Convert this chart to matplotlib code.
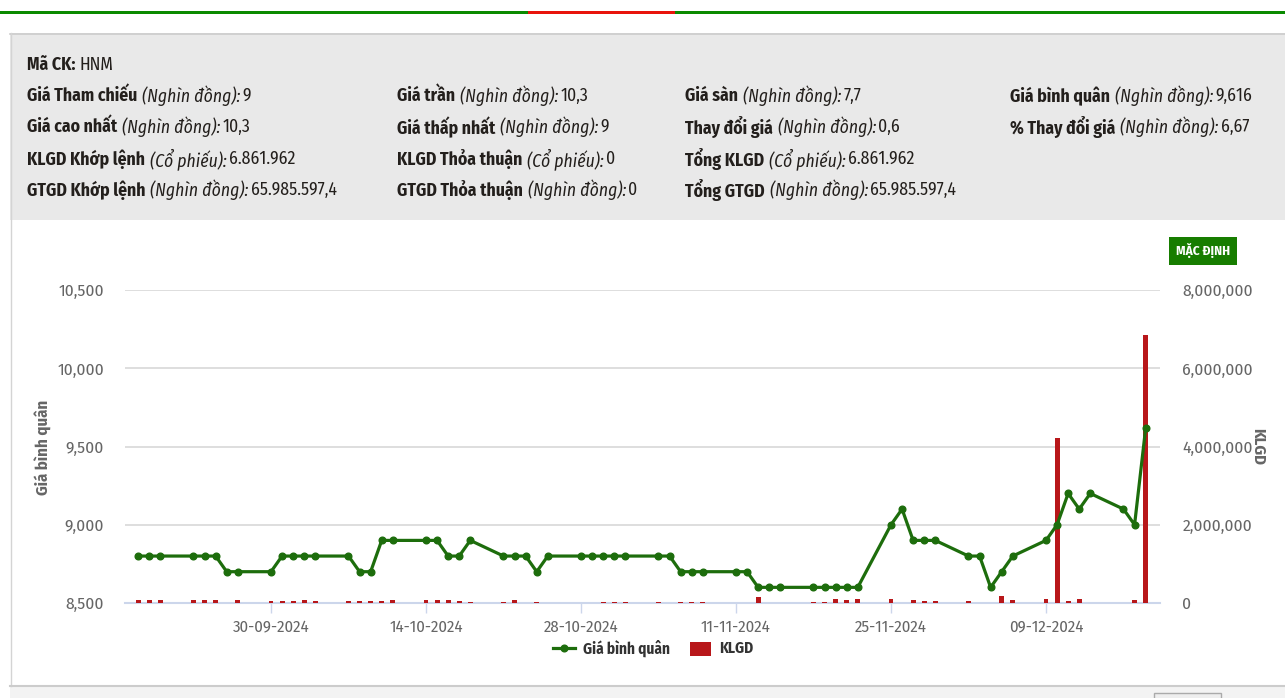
import numpy as np
import pandas as pd
import matplotlib
matplotlib.use('Agg')
import matplotlib.pyplot as plt
import matplotlib.dates as mdates
from matplotlib import font_manager
from matplotlib.patches import Rectangle
from matplotlib.ticker import FuncFormatter, FixedLocator

# ---- data ----
dates = ['18-09-2024', '19-09-2024', '20-09-2024', '23-09-2024', '24-09-2024', '25-09-2024',
         '26-09-2024', '27-09-2024', '30-09-2024', '01-10-2024', '02-10-2024', '03-10-2024',
         '04-10-2024', '07-10-2024', '08-10-2024', '09-10-2024', '10-10-2024', '11-10-2024',
         '14-10-2024', '15-10-2024', '16-10-2024', '17-10-2024', '18-10-2024', '21-10-2024',
         '22-10-2024', '23-10-2024', '24-10-2024', '25-10-2024', '28-10-2024', '29-10-2024',
         '30-10-2024', '31-10-2024', '01-11-2024', '04-11-2024', '05-11-2024', '06-11-2024',
         '07-11-2024', '08-11-2024', '11-11-2024', '12-11-2024', '13-11-2024', '14-11-2024',
         '15-11-2024', '18-11-2024', '19-11-2024', '20-11-2024', '21-11-2024', '22-11-2024',
         '25-11-2024', '26-11-2024', '27-11-2024', '28-11-2024', '29-11-2024', '02-12-2024',
         '03-12-2024', '04-12-2024', '05-12-2024', '06-12-2024', '09-12-2024', '10-12-2024',
         '11-12-2024', '12-12-2024', '13-12-2024', '16-12-2024', '17-12-2024', '18-12-2024']

gia_binh_quan = [8800, 8800, 8800, 8800, 8800, 8800,
                 8700, 8700, 8700, 8800, 8800, 8800,
                 8800, 8800, 8700, 8700, 8900, 8900,
                 8900, 8900, 8800, 8800, 8900, 8800,
                 8800, 8800, 8700, 8800, 8800, 8800,
                 8800, 8800, 8800, 8800, 8800, 8700,
                 8700, 8700, 8700, 8700, 8600, 8600,
                 8600, 8600, 8600, 8600, 8600, 8600,
                 9000, 9100, 8900, 8900, 8900, 8800,
                 8800, 8600, 8700, 8800, 8900, 9000,
                 9200, 9100, 9200, 9100, 9000, 9616]

klgd = [75000, 75000, 75000, 75000, 75000, 75000,
        0, 75000, 40000, 40000, 40000, 85000,
        40000, 40000, 40000, 40000, 40000, 85000,
        75000, 75000, 75000, 40000, 35000, 30000,
        75000, 10000, 35000, 10000, 5000, 10000,
        35000, 35000, 35000, 35000, 0, 35000,
        35000, 35000, 0, 0, 145000, 10000,
        10000, 30000, 30000, 100000, 75000, 110000,
        110000, 10000, 75000, 40000, 40000, 40000,
        10000, 0, 170000, 75000, 110000, 4210000,
        40000, 110000, 10000, 10000, 75000, 6861962]

tick_dates = ['30-09-2024', '14-10-2024', '28-10-2024', '11-11-2024', '25-11-2024', '09-12-2024']
left_ticks = [8500, 9000, 9500, 10000, 10500]
right_ticks = [0, 2000000, 4000000, 6000000, 8000000]

header_rows = [
    [("Giá Tham chiếu", "(Nghìn đồng):", "9"), ("Giá trần", "(Nghìn đồng):", "10,3"),
     ("Giá sàn", "(Nghìn đồng):", "7,7"), ("Giá bình quân", "(Nghìn đồng):", "9,616")],
    [("Giá cao nhất", "(Nghìn đồng):", "10,3"), ("Giá thấp nhất", "(Nghìn đồng):", "9"),
     ("Thay đổi giá", "(Nghìn đồng):", "0,6"), ("% Thay đổi giá", "(Nghìn đồng):", "6,67")],
    [("KLGD Khớp lệnh", "(Cổ phiếu):", "6.861.962"), ("KLGD Thỏa thuận", "(Cổ phiếu):", "0"),
     ("Tổng KLGD", "(Cổ phiếu):", "6.861.962")],
    [("GTGD Khớp lệnh", "(Nghìn đồng):", "65.985.597,4"), ("GTGD Thỏa thuận", "(Nghìn đồng):", "0"),
     ("Tổng GTGD", "(Nghìn đồng):", "65.985.597,4")],
]

# ---- fonts: a condensed face if one is there ----
names = {f.name for f in font_manager.fontManager.ttflist}
NARROW = 'Roboto'
for cand in ['Fira Sans Condensed', 'Asap Condensed', 'IBM Plex Sans Condensed',
             'Encode Sans Condensed', 'Roboto Condensed']:
    if cand in names:
        NARROW = cand
        break
FONT = [NARROW, 'DejaVu Sans']
plt.rcParams['font.family'] = FONT

W, H = 1285, 698
fig = plt.figure(figsize=(W / 100, H / 100), dpi=100)
fig.patch.set_facecolor('white')

bg = fig.add_axes([0, 0, 1, 1])
bg.set_xlim(0, W)
bg.set_ylim(H, 0)
bg.axis('off')

# page decorations
bg.add_patch(Rectangle((0, 11), W, 2.5, color='#0a8a00', lw=0))
bg.add_patch(Rectangle((528, 11), 147, 2.5, color='#e8140c', lw=0))
bg.add_patch(Rectangle((10, 33), W, 187, facecolor='#e9e9e9', edgecolor='none'))
bg.plot([10, W], [33.5, 33.5], color='#cccccc', lw=1.2)
bg.plot([10.5, 10.5], [33, 686], color='#d4d4d4', lw=1)
bg.add_patch(Rectangle((10, 686), W, 12, facecolor='#f3f3f3', edgecolor='none'))
bg.plot([10, W], [685.5, 685.5], color='#cccccc', lw=1.5)
bg.add_patch(Rectangle((1154, 693), 67, 10, facecolor='#eeeeee', edgecolor='#aaaaaa', lw=1))

renderer = fig.canvas.get_renderer()
HS = 12.7


def rich(x, y, label, unit, value):
    parts = [(label, 'bold', 'normal', 5), (unit, 'normal', 'italic', 2), (value, 'normal', 'normal', 0)]
    for s, wt, st, gap in parts:
        t = bg.text(x, y, s, fontsize=HS, fontweight=wt, fontstyle=st, color='#231f1c',
                    ha='left', va='center')
        x += t.get_window_extent(renderer).width + gap


# header panel text
t = bg.text(27, 65, "Mã CK:", fontsize=HS, fontweight='bold', color='#231f1c', ha='left', va='center')
bg.text(27 + t.get_window_extent(renderer).width + 4, 65, "HNM", fontsize=HS, color='#231f1c',
        ha='left', va='center')
col_x = [27, 397, 685, 1010]
row_y = [96, 127, 159, 190]
for r, row in enumerate(header_rows):
    for c, item in enumerate(row):
        rich(col_x[c], row_y[r], *item)

# "MẶC ĐỊNH" button
bg.add_patch(Rectangle((1169, 237), 68, 28, facecolor='#177d00', edgecolor='none'))
bg.text(1203, 251, 'MẶC ĐỊNH', fontsize=9.5, fontweight='bold', color='white', ha='center', va='center')

# ---- chart ----
x = mdates.date2num(pd.to_datetime(dates, format='%d-%m-%Y'))
xt = mdates.date2num(pd.to_datetime(tick_dates, format='%d-%m-%Y'))
px_day = (1046 - 271) / 70.0
x0 = xt[0] - (271 - 125) / px_day
x1 = xt[0] + (1160 - 271) / px_day

L, T, PW, PH = 125, 290, 1035, 313
ax = fig.add_axes([L / W, 1 - (T + PH) / H, PW / W, PH / H])
ax2 = ax.twinx()
ax.set_zorder(ax2.get_zorder() + 1)
ax.patch.set_visible(False)

ax2.bar(x, klgd, width=0.45, color='#b8171a', zorder=3)
ax2.set_ylim(0, 8000000)
ax2.yaxis.set_major_locator(FixedLocator(right_ticks))
ax2.yaxis.set_major_formatter(FuncFormatter(lambda v, p: f'{int(v):,}'))
ax2.grid(axis='y', color='#dedede', lw=1.4, zorder=0)
ax2.set_axisbelow(True)

ax.plot(x, gia_binh_quan, color='#1d6d0c', lw=2.3, marker='o', markersize=4.8, zorder=5)
ax.set_ylim(8500, 10500)
ax.yaxis.set_major_locator(FixedLocator(left_ticks))
ax.yaxis.set_major_formatter(FuncFormatter(lambda v, p: f'{int(v):,}'))
ax.set_xlim(x0, x1)
ax.set_xticks(xt)
ax.set_xticklabels(tick_dates)

for a in (ax, ax2):
    for s in a.spines.values():
        s.set_visible(False)
# axis line sits under the bars
ax2.spines['bottom'].set_visible(True)
ax2.spines['bottom'].set_color('#ccd6eb')
ax2.spines['bottom'].set_linewidth(1.5)
ax2.spines['bottom'].set_zorder(2)
ax.tick_params(axis='x', length=7, width=1, color='#ccd6eb', labelsize=12, labelcolor='#666666', pad=5)
ax.tick_params(axis='y', length=0, labelsize=12.5, labelcolor='#666666', pad=15)
ax2.tick_params(axis='y', length=0, labelsize=12.5, labelcolor='#666666', pad=16)
ax2.tick_params(axis='x', length=0)

bg.text(43, 447, 'Giá bình quân', rotation=90, fontsize=12, fontweight='bold', color='#666666',
        ha='center', va='center')
bg.text(1258, 447, 'KLGD', rotation=270, fontsize=12, fontweight='bold', color='#666666',
        ha='center', va='center')

# legend
bg.plot([553, 575], [648, 648], color='#1d6d0c', lw=2.3)
bg.plot([564], [648], color='#1d6d0c', marker='o', markersize=4.8)
bg.text(583, 648, 'Giá bình quân', fontsize=11, fontweight='bold', color='#333333', ha='left', va='center')
bg.add_patch(Rectangle((690, 642), 21, 14, facecolor='#b8171a', edgecolor='none'))
bg.text(719, 648, 'KLGD', fontsize=11, fontweight='bold', color='#333333', ha='left', va='center')

fig.savefig('out.png', dpi=100)
